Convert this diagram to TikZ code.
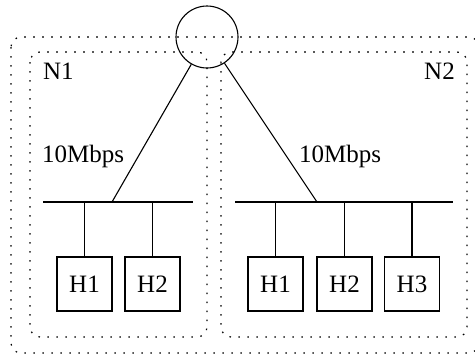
\documentclass[tikz,border=0pt]{standalone}
\usepackage{fontspec}
\setmainfont{Liberation Serif}
\begin{document}
\begin{tikzpicture}[x=1pt,y=-1pt,
  every node/.style={font=\fontsize{25}{30}\selectfont},
  net/.style={line width=1.1pt},
  area/.style={line width=1.2pt, dash pattern=on 1.6pt off 7.4pt, rounded corners=10pt},
  host/.style={draw, line width=1.1pt, minimum width=55pt, minimum height=54pt, inner sep=0pt},
  lbl/.style={inner sep=0pt}]
\useasboundingbox (0,0) rectangle (475,354);
% dotted regions
\draw[area] (11,37) rectangle (479,353);
\draw[area] (30,52) rectangle (207,337);
\draw[area] (221,52) rectangle (467,337);
% router
\node[circle, draw, net, minimum size=62pt, inner sep=0pt] (r) at (207,37) {};
% buses
\coordinate (lb1) at (43,202);
\coordinate (lb2) at (193,202);
\coordinate (rb1) at (235,202);
\coordinate (rb2) at (453,202);
\coordinate (lj) at (112,202);
\coordinate (rj) at (317,202);
\draw[net] (lb1) -- (lb2);
\draw[net] (rb1) -- (rb2);
\draw[net] (r) -- (lj);
\draw[net] (r) -- (rj);
% hosts
\node[host] (a1) at (84.5,284) {H1};
\node[host] (a2) at (152.5,284) {H2};
\node[host] (b1) at (275.5,284) {H1};
\node[host] (b2) at (344.5,284) {H2};
\node[host] (b3) at (412,284) {H3};
\draw[net] (a1.north) -- (a1.north |- lb1);
\draw[net] (a2.north) -- (a2.north |- lb1);
\draw[net] (b1.north) -- (b1.north |- rb1);
\draw[net] (b2.north) -- (b2.north |- rb1);
\draw[net] (b3.north) -- (b3.north |- rb1);
% labels
\node[lbl, anchor=base west] (s1) at (42,162) {10Mbps};
\node[lbl, anchor=base west] (s2) at (299,162) {10Mbps};
\node[lbl, anchor=base west] (n1) at (43,79) {N1};
\node[lbl, anchor=base east] (n2) at (455,79) {N2};
\end{tikzpicture}
\end{document}
